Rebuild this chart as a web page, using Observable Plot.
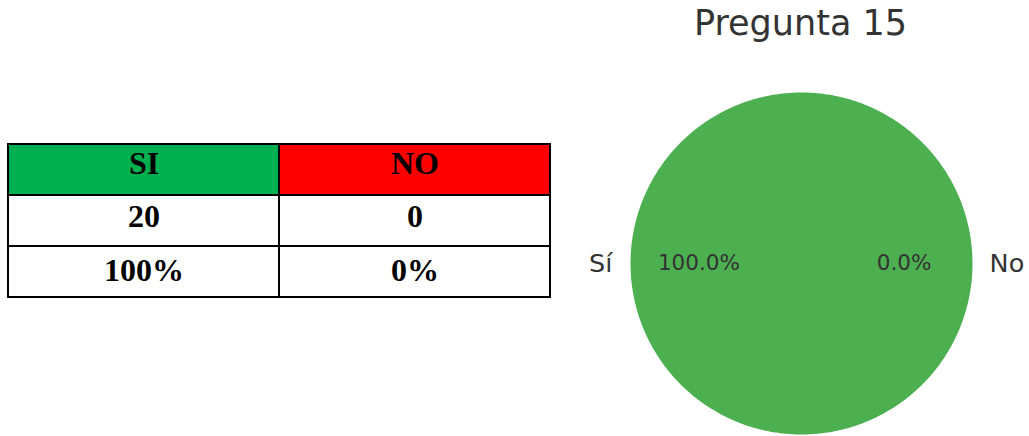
<!DOCTYPE html>
<html><head><meta charset="utf-8">
<script src="https://cdn.jsdelivr.net/npm/d3@7"></script>
<script src="https://cdn.jsdelivr.net/npm/@observablehq/plot@0.6"></script>
<style>
html,body{margin:0;padding:0;background:#fff;}
#root{position:relative;width:1029px;height:436px;overflow:hidden;background:#fff;}
#table{position:absolute;left:7px;top:142px;}
#pie{position:absolute;left:560px;top:0;}
svg{display:block;}
</style></head><body><div id="root"><div id="table"></div><div id="pie"></div></div>
<script>
const title = "Pregunta 15";
const categories = ["Sí", "No"];
const counts = [20, 0];
const tableHeaders = ["SI", "NO"];
const tableRows = ["header", "count", "percent"];
const tablePercents = ["100%", "0%"];
const pieColors = ["#4CAF50", "#F44336"];
const headerColors = ["#00B050", "#FF0000"];

// ---------- table ----------
const tableCells = [];
tableHeaders.forEach((h, i) => {
  tableCells.push({col: h, row: "header", text: h, fill: headerColors[i]});
  tableCells.push({col: h, row: "count", text: String(counts[i]), fill: "#ffffff"});
  tableCells.push({col: h, row: "percent", text: tablePercents[i], fill: "#ffffff"});
});
const serif = "'Liberation Serif','Times New Roman',serif";
const rowOffset = {header: -6.5, count: -4, percent: -1};
const tablePlot = Plot.plot({
  width: 544, height: 157, margin: 1,
  x: {type: "band", domain: tableHeaders, padding: 0, axis: null},
  y: {type: "band", domain: tableRows, padding: 0, axis: null},
  color: {type: "identity"},
  style: {background: "transparent"},
  marks: [
    Plot.cell(tableCells, {x: "col", y: "row", fill: "fill", stroke: "#000", strokeWidth: 2, inset: 0}),
    ...tableRows.map(r => Plot.text(tableCells.filter(d => d.row === r), {x: "col", y: "row", text: "text", fontFamily: serif,
      fontWeight: "bold", fontSize: 32, fill: "#000", dy: rowOffset[r]}))
  ]
});
document.getElementById("table").appendChild(tablePlot);

// ---------- pie ----------
const total = d3.sum(counts);
const slices = categories.map((c, i) => ({label: c, count: counts[i], color: pieColors[i]}));
const startOffset = 0; // matplotlib default startangle, counter-clockwise
const arcs = d3.pie().sort(null).value(d => d.count)(slices);
const polyPoints = arcs.flatMap(a => {
  const a0 = startOffset + a.startAngle, a1 = startOffset + a.endAngle;
  const n = Math.max(1, Math.ceil((a1 - a0) / (Math.PI / 360)));
  const pts = [{label: a.data.label, color: a.data.color, x: 0, y: 0}];
  for (let k = 0; k <= n; k++) {
    const t = a0 + (a1 - a0) * k / n;
    pts.push({label: a.data.label, color: a.data.color, x: Math.cos(t), y: Math.sin(t)});
  }
  pts.push({label: a.data.label, color: a.data.color, x: 0, y: 0});
  return pts;
});
const labelData = arcs.map(a => {
  const mid = startOffset + (a.startAngle + a.endAngle) / 2;
  return {label: a.data.label, pct: (100 * a.data.count / total).toFixed(1) + "%", cx: Math.cos(mid), cy: Math.sin(mid)};
});

const R = 171, CX = 241, CY = 263, W = 469, H = 436;
const txt = "#333333";
const font = "'DejaVu Sans', sans-serif";
const piePlot = Plot.plot({
  width: W, height: H, margin: 0,
  x: {domain: [-CX / R, (W - CX) / R], axis: null},
  y: {domain: [-(H - CY) / R, CY / R], axis: null},
  color: {type: "identity"},
  style: {background: "transparent"},
  marks: [
    Plot.line(polyPoints, {x: "x", y: "y", z: "label", fill: "color", stroke: "none", curve: "linear"}),
    Plot.text(labelData.filter(d => d.cx < 0), {x: d => 1.1 * d.cx, y: d => 1.1 * d.cy, text: "label", textAnchor: "end", fontSize: 25.5, fontFamily: font, fill: txt, dx: -1}),
    Plot.text(labelData.filter(d => d.cx >= 0), {x: d => 1.1 * d.cx, y: d => 1.1 * d.cy, text: "label", textAnchor: "start", fontSize: 25.5, fontFamily: font, fill: txt}),
    Plot.text(labelData, {x: d => 0.6 * d.cx, y: d => 0.6 * d.cy, text: "pct", fontSize: 21.5, fontFamily: font, fill: txt}),
    Plot.text([title], {x: () => 0, text: d => d, frameAnchor: "top", lineAnchor: "middle", dy: 23, dx: -1, fontSize: 35, fontFamily: font, fill: txt})
  ]
});
document.getElementById("pie").appendChild(piePlot);
</script></body></html>
